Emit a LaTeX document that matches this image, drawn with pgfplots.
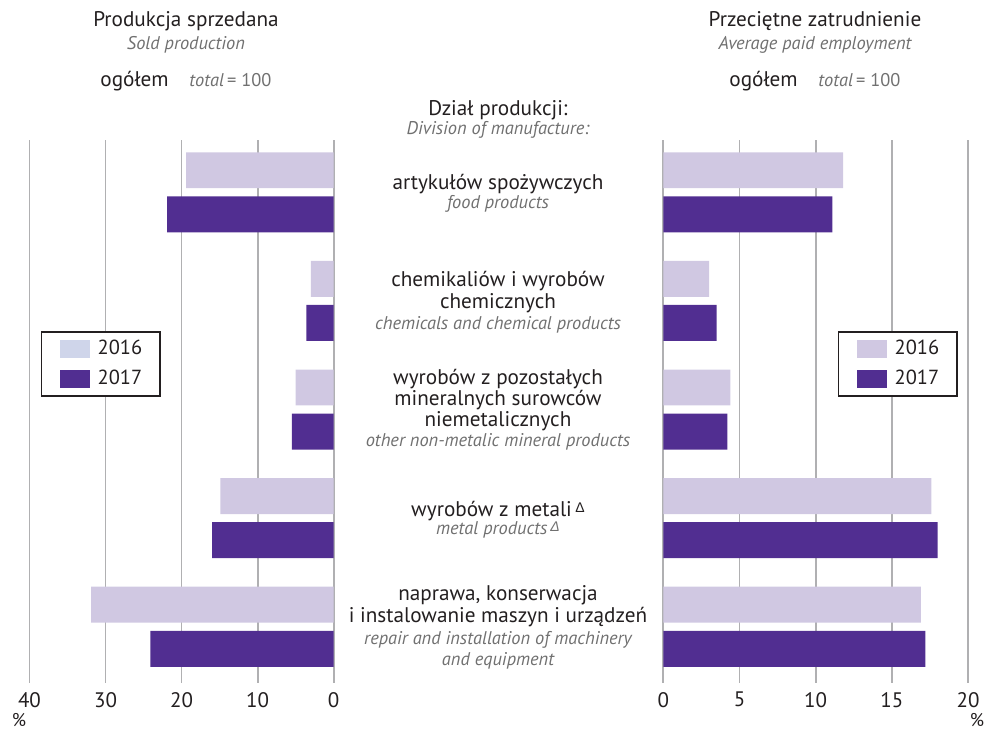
\documentclass[border=0pt]{standalone}
\usepackage{fontspec}
\setmainfont{PT Sans}
\newfontfamily\symf{Liberation Sans}
\usepackage{pgfplots}
\usepackage{pgfplotstable}
\pgfplotsset{compat=1.18}

\definecolor{lt}{RGB}{208,200,226}
\definecolor{lb}{RGB}{207,213,234}
\definecolor{dk}{RGB}{81,46,145}
\definecolor{gridc}{RGB}{176,176,178}
\definecolor{txt}{RGB}{35,31,32}
\definecolor{gr}{RGB}{112,112,112}

\newcommand\mainf{\fontsize{10.6}{12}\selectfont}
\newcommand\subf{\fontsize{9.2}{10}\selectfont\itshape}
\newcommand\legf{\fontsize{10.2}{12}\selectfont}
\newcommand\tickf{\fontsize{10.5}{12}\selectfont}
\newcommand\pctf{\fontsize{9.2}{10}\selectfont}
\newcommand\dl{\,\raisebox{2pt}{\symf\fontsize{7}{7}\selectfont Δ}}

\pgfplotstableread{
cat prod16 prod17 emp16 emp17
0 19.4 21.9 11.8 11.1
1 3.0 3.6 3.0 3.5
2 5.0 5.5 4.4 4.2
3 14.9 16.0 17.6 18.0
4 31.9 24.1 16.9 17.2
}\datatable

\pgfplotsset{halfax/.style={
  scale only axis, height=271.5pt,
  ymin=-0.4816, ymax=4.518, y dir=reverse,
  ytick=\empty, axis line style={draw=none},
  major tick length=0pt,
  xmajorgrids, grid style={draw=gridc, line width=0.9pt},
  xbar, bar width=0.331,
  /pgf/number format/assume math mode=true,
  xticklabel style={font=\tickf, text=txt, yshift=-1pt},
  legend cell align=left,
  legend image code/.code={\fill[##1] (0pt,-4.5pt) rectangle (15pt,4.5pt);},
  legend style={draw=txt, line width=0.75pt, fill=white, font=\legf, text=txt,
    inner xsep=9pt, inner ysep=4pt, row sep=6pt, column sep=4pt,
    nodes={inner sep=0pt}, anchor=north west},
}}

\begin{document}
\begin{tikzpicture}
\useasboundingbox (0,0) rectangle (495.5pt,364.5pt);
\begin{axis}[halfax, at={(14.75pt,23pt)}, anchor=south west, width=152.1pt,
  xmin=0, xmax=40, x dir=reverse, xtick={0,10,20,30,40},
  legend style={at={(axis description cs:0.0378,0.648)}}]
\addplot[fill=lt, draw=none, bar shift=-0.203, forget plot] table[x=prod16,y=cat]{\datatable};
\addplot[fill=dk, draw=none, bar shift=0.203, forget plot] table[x=prod17,y=cat]{\datatable};
\addlegendimage{fill=lb, draw=none}
\addlegendentry{2016}
\addlegendimage{fill=dk, draw=none}
\addlegendentry{2017}
\end{axis}
\begin{axis}[halfax, at={(331.65pt,23pt)}, anchor=south west, width=152.35pt,
  xmin=0, xmax=20, xtick={0,5,10,15,20},
  legend style={at={(axis description cs:0.5733,0.648)}}]
\addplot[fill=lt, draw=none, bar shift=-0.203, forget plot] table[x=emp16,y=cat]{\datatable};
\addplot[fill=dk, draw=none, bar shift=0.203, forget plot] table[x=emp17,y=cat]{\datatable};
\addlegendimage{fill=lt, draw=none}
\addlegendentry{2016}
\addlegendimage{fill=dk, draw=none}
\addlegendentry{2017}
\end{axis}

\begin{scope}[x=0.5pt,y=-0.5pt,yshift=364.5pt]
\tikzset{m/.style={anchor=base, font=\mainf, text=txt, inner sep=0pt},
         s/.style={anchor=base, font=\subf, text=gr, inner sep=0pt}}
% headers left
\node[m] at (186,27) {Produkcja sprzedana};
\node[s] at (186,50) {Sold production};
\node[m, anchor=base west] at (100,87) {ogółem};
\node[anchor=base west, font=\subf, text=gr, inner sep=0pt] at (189,87) {total\,\upshape = 100};
% headers right
\node[m] at (815,27) {Przeciętne zatrudnienie};
\node[s] at (815,50) {Average paid employment};
\node[m, anchor=base west] at (729,87) {ogółem};
\node[anchor=base west, font=\subf, text=gr, inner sep=0pt] at (818,87) {total\,\upshape = 100};
% centre
\node[m] at (498,116) {Dział produkcji:};
\node[s] at (498,135) {Division of manufacture:};

\node[m] at (498,190) {artykułów spożywczych};
\node[s] at (498,209) {food products};

\node[m] at (498,287) {chemikaliów i wyrobów};
\node[m] at (498,308.5) {chemicznych};
\node[s] at (498,329.5) {chemicals and chemical products};

\node[m] at (498,385) {wyrobów z pozostałych};
\node[m] at (498,406) {mineralnych surowców};
\node[m] at (498,427) {niemetalicznych};
\node[s] at (498,447) {other non-metalic mineral products};

\node[m] at (498,516) {wyrobów z metali\dl};
\node[s] at (498,535) {metal products\dl};

\node[m] at (498,600) {naprawa, konserwacja};
\node[m] at (498,622.7) {i instalowanie maszyn i urządzeń};
\node[s] at (498,644) {repair and installation of machinery};
\node[s] at (498,665) {and equipment};

\node[anchor=base, font=\pctf, text=txt, inner sep=0pt] at (19,726) {\%};
\node[anchor=base, font=\pctf, text=txt, inner sep=0pt] at (977,726) {\%};
\end{scope}
\end{tikzpicture}
\end{document}
